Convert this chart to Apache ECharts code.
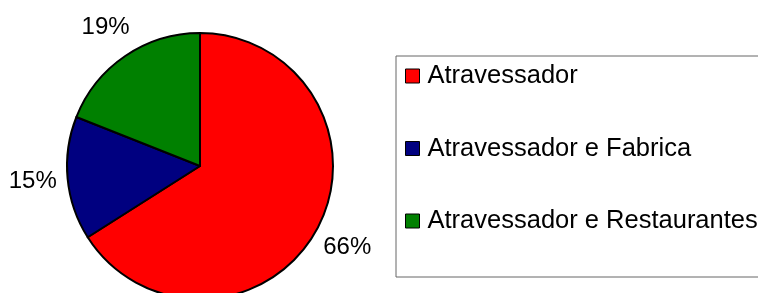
<!DOCTYPE html>
<html>
<head>
<meta charset="utf-8">
<script src="https://cdn.jsdelivr.net/npm/echarts@6/dist/echarts.min.js"></script>
<style>
html,body{margin:0;padding:0;background:#fff;}
#c{width:758px;height:293px;}
</style>
</head>
<body>
<div id="c"></div>
<script>
const categories = ['Atravessador', 'Atravessador e Fabrica', 'Atravessador e Restaurantes'];
const values = [66, 15, 19];
const colors = ['#ff0000', '#000080', '#008000'];

const FONT = '"Liberation Sans", Arial, sans-serif';
const pieData = categories.map((n, i) => ({ name: n, value: values[i], itemStyle: { color: colors[i] } }));
const labelData = categories.map((n, i) => ({ name: n, value: values[i] }));

const chart = echarts.init(document.getElementById('c'), null, { renderer: 'canvas' });
chart.setOption({
  animation: false,
  backgroundColor: '#ffffff',
  legend: {
    orient: 'vertical',
    left: 396,
    top: 56,
    padding: [6, 60, 42, 9],
    itemGap: 44.5,
    itemWidth: 14,
    itemHeight: 14,
    icon: 'rect',
    borderColor: '#666666',
    borderWidth: 1,
    selectedMode: false,
    data: categories,
    itemStyle: { borderColor: '#000', borderWidth: 1 },
    textStyle: { fontFamily: FONT, fontSize: 25.5, color: '#000', lineHeight: 28, padding: [0, 0, 0, 3] }
  },
  series: [
    {
      type: 'pie',
      center: [200, 166],
      radius: 133,
      startAngle: 90,
      clockwise: true,
      silent: true,
      label: { show: false },
      labelLine: { show: false },
      itemStyle: { borderColor: '#000', borderWidth: 2 },
      data: pieData
    },
    {
      type: 'pie',
      center: [200, 166],
      radius: 330,
      startAngle: 90,
      clockwise: true,
      silent: true,
      z: 1,
      itemStyle: { color: 'rgba(0,0,0,0)', borderWidth: 0 },
      label: {
        show: true,
        position: 'inside',
        formatter: '{c}%',
        fontFamily: FONT,
        fontSize: 24,
        color: '#000'
      },
      labelLine: { show: false },
      data: labelData
    }
  ]
});
</script>
</body>
</html>
